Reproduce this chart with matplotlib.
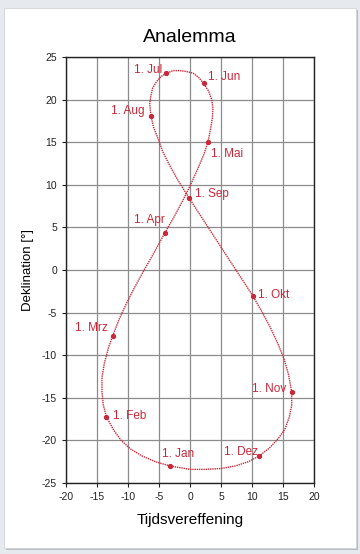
import matplotlib.pyplot as plt
from matplotlib.patches import Rectangle

plt.rcParams["font.family"] = ["Liberation Sans", "DejaVu Sans"]
plt.rcParams["axes.unicode_minus"] = False

eot = [-3.2, -5.6, -7.8, -9.6, -11.1, -12.3,
       -13.5, -14.0, -14.2, -14.2, -13.8, -13.1,
       -12.5, -11.5, -10.3, -8.9, -7.4, -5.9,
       -4.1, -2.6, -1.2, 0.1, 1.2, 2.2,
       2.9, 3.3, 3.6, 3.7, 3.5, 3.0,
       2.2, 1.4, 0.5, -0.6, -1.6, -2.7,
       -3.8, -4.7, -5.4, -6.0, -6.3, -6.5,
       -6.3, -5.9, -5.2, -4.4, -3.3, -2.0,
       -0.1, 1.5, 3.2, 4.9, 6.6, 8.4,
       10.1, 11.6, 13.0, 14.2, 15.2, 15.9,
       16.4, 16.4, 16.0, 15.3, 14.2, 12.8,
       11.2, 9.4, 7.3, 5.0, 2.5, 0.0, -3.2]
dekl = [-23.0, -22.5, -21.8, -21.0, -20.0, -18.8,
        -17.2, -15.8, -14.3, -12.6, -10.9, -9.0,
        -7.8, -5.9, -4.0, -2.0, 0.0, 1.9,
        4.3, 6.2, 8.1, 10.0, 11.8, 13.5,
        15.0, 16.5, 17.8, 19.0, 20.0, 21.0,
        21.9, 22.6, 23.1, 23.3, 23.4, 23.4,
        23.1, 22.7, 22.1, 21.4, 20.5, 19.5,
        18.1, 16.8, 15.5, 13.9, 12.3, 10.6,
        8.4, 6.6, 4.7, 2.8, 0.9, -1.1,
        -3.0, -4.9, -6.8, -8.7, -10.5, -12.3,
        -14.3, -15.9, -17.3, -18.7, -19.8, -20.9,
        -21.8, -22.5, -23.0, -23.3, -23.4, -23.4, -23.0]

monate = ["1. Jan", "1. Feb", "1. Mrz", "1. Apr", "1. Mai", "1. Jun",
          "1. Jul", "1. Aug", "1. Sep", "1. Okt", "1. Nov", "1. Dez"]
monat_x = [-3.2, -13.5, -12.5, -4.1, 2.9, 2.2, -3.8, -6.3, -0.1, 10.1, 16.4, 11.2]
monat_y = [-23.0, -17.2, -7.8, 4.3, 15.0, 21.9, 23.1, 18.1, 8.4, -3.0, -14.3, -21.8]

# label offsets in pixels + alignment
offsets = [(-8, 12, "left"), (7, 1, "left"), (-5, 8, "right"), (0, 13, "right"),
           (3, -12, "left"), (4, 6, "left"), (-4, 3, "right"), (-6, 5, "right"),
           (6, 4, "left"), (5, 1, "left"), (-5, 3, "right"), (-1, 4, "right")]

rot = "#c8283a"

fig = plt.figure(figsize=(3.6, 5.54), dpi=100)
fig.patch.set_facecolor("#e6eaee")
# weisse Karte mit Schatten
fig.patches.append(Rectangle((6 / 360, 4 / 554), 352 / 360, 540 / 554, transform=fig.transFigure,
                             facecolor="#b8bcc0", edgecolor="none", zorder=-2))
fig.patches.append(Rectangle((4 / 360, 6 / 554), 352 / 360, 540 / 554, transform=fig.transFigure,
                             facecolor="white", edgecolor="#d0d4d8", lw=0.6, zorder=-1))

ax = fig.add_axes([66 / 360, 71 / 554, 248 / 360, 426 / 554])
ax.set_facecolor("white")

ax.plot(eot, dekl, color=rot, lw=1.0, linestyle=(0, (1, 0.6)))
ax.plot(monat_x, monat_y, "o", color=rot, ms=2.8, zorder=3)

for name, x, y, (dx, dy, ha) in zip(monate, monat_x, monat_y, offsets):
    ax.annotate(name, (x, y), xytext=(dx, dy), textcoords="offset pixels",
                ha=ha, va="center", color=rot, fontsize=8.5)

ax.set_xlim(-20, 20)
ax.set_ylim(-25, 25)
ax.set_xticks(range(-20, 21, 5))
ax.set_yticks(range(-25, 26, 5))
ax.grid(True, color="#8c8c8c", lw=0.9)
ax.set_axisbelow(True)
for s in ax.spines.values():
    s.set_color("#222222")
    s.set_linewidth(1.0)
ax.tick_params(labelsize=7.5, length=3, width=0.8, colors="#222222")

ax.set_xlabel("Tijdsvereffening", fontsize=11, labelpad=8)
ax.set_ylabel("Deklination [°]", fontsize=9.5, labelpad=6)
fig.text(190 / 360, 1 - 38 / 554, "Analemma", ha="center", va="center", fontsize=14)

plt.savefig("out.png", dpi=100, facecolor=fig.get_facecolor())
plt.close()
